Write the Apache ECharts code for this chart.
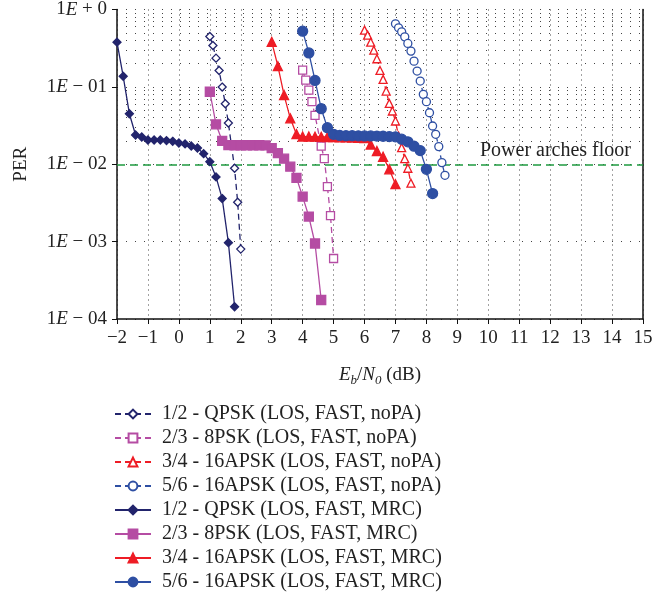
<!DOCTYPE html>
<html><head><meta charset="utf-8">
<script src="https://cdn.jsdelivr.net/npm/echarts@6/dist/echarts.min.js"></script>
<style>html,body{margin:0;padding:0;background:#fff}#c{width:669px;height:596px}</style>
</head><body><div id="c"></div>
<script>
// ---- data ----
const xTickMin = -2, xTickMax = 15;
const yDecades = [1e-4, 1e-3, 1e-2, 1e-1, 1];
const floorValue = 0.011;
const floorLabel = 'Power arches floor';

const names = [
  '1/2 - QPSK (LOS, FAST, noPA)',
  '2/3 - 8PSK (LOS, FAST, noPA)',
  '3/4 - 16APSK (LOS, FAST, noPA)',
  '5/6 - 16APSK (LOS, FAST, noPA)',
  '1/2 - QPSK (LOS, FAST, MRC)',
  '2/3 - 8PSK (LOS, FAST, MRC)',
  '3/4 - 16APSK (LOS, FAST, MRC)',
  '5/6 - 16APSK (LOS, FAST, MRC)'
];

const qpskNoPA_x = [1.0,1.1,1.2,1.3,1.4,1.5,1.6,1.8,1.9,2.0];
const qpskNoPA_y = [0.448,0.343,0.235,0.163,0.0994,0.0605,0.0341,0.00888,0.00323,0.0008];

const psk8NoPA_x = [4.0,4.1,4.2,4.3,4.4,4.6,4.7,4.8,4.9,5.0];
const psk8NoPA_y = [0.165,0.122,0.091,0.0643,0.0429,0.0171,0.0118,0.00514,0.00217,0.000605];

const apsk34NoPA_x = [6.0,6.1,6.2,6.3,6.4,6.5,6.6,6.7,6.8,6.9,7.0,7.1,7.2,7.3,7.4,7.5];
const apsk34NoPA_y = [0.541,0.466,0.378,0.298,0.231,0.163,0.125,0.0883,0.0612,0.0488,0.0362,0.0232,0.0164,0.0118,0.00888,0.00569];

const apsk56NoPA_x = [7.0,7.1,7.2,7.3,7.4,7.5,7.6,7.7,7.8,7.9,8.0,8.1,8.2,8.3,8.4,8.5,8.6];
const apsk56NoPA_y = [0.653,0.58,0.514,0.443,0.364,0.29,0.215,0.16,0.119,0.08,0.0643,0.0463,0.0312,0.0244,0.0169,0.0105,0.0072];

const qpskMRC_x = [-2.0,-1.8,-1.6,-1.4,-1.2,-1.0,-0.8,-0.6,-0.4,-0.2,0.0,0.2,0.4,0.6,0.8,1.0,1.2,1.4,1.6,1.8];
const qpskMRC_y = [0.378,0.137,0.045,0.0239,0.0225,0.0206,0.0206,0.0206,0.0202,0.0198,0.0188,0.0183,0.0172,0.0162,0.0137,0.0108,0.00686,0.0036,0.00097,0.000144];

const psk8MRC_x = [1.0,1.2,1.4,1.6,1.8,2.0,2.2,2.4,2.6,2.8,3.0,3.2,3.4,3.6,3.8,4.0,4.2,4.4,4.6];
const psk8MRC_y = [0.0865,0.0328,0.020,0.0177,0.0176,0.0176,0.0176,0.0176,0.0176,0.0175,0.0162,0.0139,0.0118,0.0093,0.00666,0.00382,0.00211,0.000946,0.000176];

const apsk34MRC_x = [3.0,3.2,3.4,3.6,3.8,4.0,4.2,4.4,4.6,4.8,5.0,5.2,5.4,5.6,5.8,6.0,6.2,6.4,6.6,6.8,7.0];
const apsk34MRC_y = [0.382,0.185,0.0784,0.0392,0.0245,0.0228,0.0228,0.0227,0.0226,0.0225,0.0224,0.0223,0.0222,0.0221,0.022,0.0218,0.018,0.0148,0.0125,0.0086,0.00552];

const apsk56MRC_x = [4.0,4.2,4.4,4.6,4.8,5.0,5.2,5.4,5.6,5.8,6.0,6.2,6.4,6.6,6.8,7.0,7.2,7.4,7.6,7.8,8.0,8.2];
const apsk56MRC_y = [0.525,0.275,0.121,0.0522,0.0297,0.0244,0.0236,0.0234,0.0234,0.0233,0.0232,0.0232,0.0231,0.023,0.0228,0.0226,0.0211,0.0195,0.0171,0.015,0.0086,0.00418];

// ---- styling ----
const NAVY = '#22246c', MAG = '#b54ca3', RED = '#ee1c25', BLUE = '#2e4fa3';
const FONT = '"Liberation Serif", "DejaVu Serif", serif';
const FS = 19;

function pairs(xs, ys) { return xs.map((x, i) => [x, ys[i]]); }

function mkSeries(name, xs, ys, color, symbol, size, dashed, filled) {
  return {
    name, type: 'line', data: pairs(xs, ys), symbol, symbolSize: size,
    lineStyle: { color, width: 1.3, type: dashed ? [6, 4] : 'solid' },
    itemStyle: { color: filled ? color : '#fff', borderColor: color, borderWidth: 1.3 },
    z: 5, animation: false
  };
}

// minor grid values (2..9 x each decade)
const minorVals = [];
for (let d = 0; d < yDecades.length - 1; d++) {
  for (let k = 2; k <= 9; k++) minorVals.push(+(k * yDecades[d]).toPrecision(3));
}

const series = [
  mkSeries(names[0], qpskNoPA_x, qpskNoPA_y, NAVY, 'diamond', 8, true, false),
  mkSeries(names[1], psk8NoPA_x, psk8NoPA_y, MAG, 'rect', 8, true, false),
  mkSeries(names[2], apsk34NoPA_x, apsk34NoPA_y, RED, 'triangle', 8, true, false),
  mkSeries(names[3], apsk56NoPA_x, apsk56NoPA_y, BLUE, 'circle', 8, true, false),
  mkSeries(names[4], qpskMRC_x, qpskMRC_y, NAVY, 'diamond', 8, false, true),
  mkSeries(names[5], psk8MRC_x, psk8MRC_y, MAG, 'rect', 9, false, true),
  mkSeries(names[6], apsk34MRC_x, apsk34MRC_y, RED, 'triangle', 9, false, true),
  mkSeries(names[7], apsk56MRC_x, apsk56MRC_y, BLUE, 'circle', 10, false, true),
  {
    name: 'minorGrid', type: 'line', data: [], silent: true, z: 1,
    markLine: {
      silent: true, symbol: 'none', animation: false, label: { show: false },
      lineStyle: { color: '#444', width: 1, type: [1, 8] },
      data: minorVals.map(v => ({ yAxis: v }))
    }
  },
  {
    name: 'floor', type: 'line', data: [], silent: true, z: 3,
    markLine: {
      silent: true, symbol: 'none', animation: false,
      lineStyle: { color: '#1f9a40', width: 1.5, type: [8, 5] },
      label: { show: true, position: 'insideEndTop', formatter: floorLabel, color: '#222',
               fontFamily: FONT, fontSize: 20, distance: [12, 4] },
      data: [{ yAxis: floorValue }]
    }
  }
];

const chart = echarts.init(document.getElementById('c'), null, { renderer: 'canvas' });
chart.setOption({
  animation: false,
  backgroundColor: '#fff',
  textStyle: { fontFamily: FONT },
  grid: { left: 117, right: 26, top: 8, bottom: 277, containLabel: false },
  legend: {
    data: names, orient: 'vertical', left: 114, top: 404, padding: 0,
    itemWidth: 36, itemHeight: 11, itemGap: 4,
    textStyle: { fontFamily: FONT, fontSize: 20, color: '#222', lineHeight: 19, padding: [0, 0, 0, 6] }
  },
  xAxis: {
    type: 'value', min: xTickMin, max: xTickMax, interval: 1,
    name: '{i|E}{s|b}/{i|N}{s|0} (dB)', nameLocation: 'middle', nameGap: 44,
    nameTextStyle: {
      fontFamily: FONT, fontSize: FS, color: '#222',
      rich: {
        i: { fontFamily: FONT, fontSize: FS, fontStyle: 'italic', color: '#222', lineHeight: 24, verticalAlign: 'middle' },
        s: { fontFamily: FONT, fontSize: 13, fontStyle: 'italic', color: '#222', lineHeight: 24, verticalAlign: 'bottom', padding: [8, 0, 0, 0] }
      }
    },
    axisLine: { show: true, onZero: false, lineStyle: { color: '#111', width: 1.5 } },
    axisTick: { show: true, inside: false, length: 5, lineStyle: { color: '#111' } },
    axisLabel: { fontFamily: FONT, fontSize: FS, color: '#222', margin: 10,
                 formatter: v => v < 0 ? '\u2212' + (-v) : String(v) },
    splitLine: { show: true, lineStyle: { color: '#444', width: 1, type: [1, 4] } }
  },
  yAxis: [{
    type: 'log', logBase: 10, min: yDecades[0], max: yDecades[yDecades.length - 1],
    name: 'PER', nameLocation: 'middle', nameGap: 86, nameRotate: 90,
    nameTextStyle: { fontFamily: FONT, fontSize: FS, color: '#222' },
    axisLine: { show: true, onZero: false, lineStyle: { color: '#111', width: 1.5 } },
    axisTick: { show: true, inside: false, length: 5, lineStyle: { color: '#111' } },
    axisLabel: {
      fontFamily: FONT, fontSize: FS, color: '#222', margin: 10,
      formatter: v => {
        const e = Math.round(Math.log10(v));
        return e === 0 ? '1{i|E} + 0' : '1{i|E} \u2212 0' + (-e);
      },
      rich: { i: { fontFamily: FONT, fontSize: FS, fontStyle: 'italic', color: '#222' } }
    },
    splitLine: { show: true, lineStyle: { color: '#444', width: 1, type: [1, 8] } }
  }, {
    type: 'log', logBase: 10, min: yDecades[0], max: yDecades[yDecades.length - 1], position: 'right',
    axisLine: { show: true, onZero: false, lineStyle: { color: '#111', width: 1.5 } },
    axisTick: { show: false }, axisLabel: { show: false }, splitLine: { show: false }
  }],
  series
});
</script></body></html>
